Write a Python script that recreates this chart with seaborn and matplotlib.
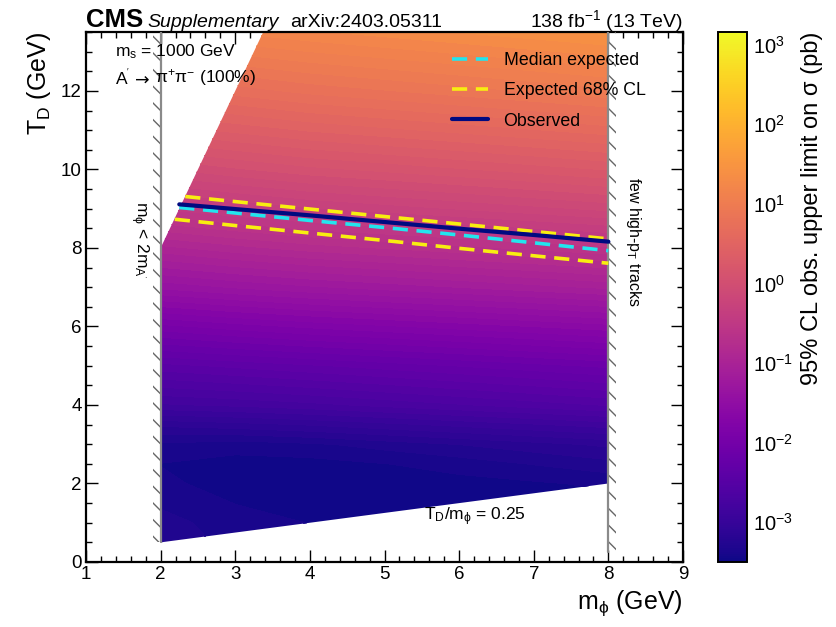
import numpy as np
import pandas as pd
import matplotlib
matplotlib.use("Agg")
import matplotlib.pyplot as plt
import seaborn as sns
from matplotlib.colors import Normalize, LogNorm
from matplotlib.patches import Polygon, Rectangle
from matplotlib.ticker import MultipleLocator, LogFormatterMathtext
from matplotlib.cm import ScalarMappable

# ---------------- data ----------------
m_phi = [2, 3, 4, 5, 6, 7, 8]
t_d = [0.5, 1.0, 1.5, 2.0, 2.5, 3.0, 3.5, 4.0, 5.0, 6.0, 7.0, 8.0, 9.0, 10.0, 11.0, 12.0, 13.5]
# log10 of observed upper limit (pb); rows = t_d, columns = m_phi
log_limit = [
    [-3.30, -3.35, -3.40, -3.42, -3.45, -3.45, -3.45],
    [-3.30, -3.38, -3.42, -3.45, -3.45, -3.45, -3.45],
    [-3.35, -3.42, -3.45, -3.45, -3.45, -3.45, -3.45],
    [-3.40, -3.45, -3.45, -3.45, -3.45, -3.43, -3.40],
    [-3.42, -3.45, -3.45, -3.42, -3.38, -3.33, -3.28],
    [-3.35, -3.38, -3.35, -3.30, -3.25, -3.20, -3.15],
    [-3.15, -3.12, -3.08, -3.03, -2.98, -2.93, -2.88],
    [-2.85, -2.82, -2.78, -2.73, -2.68, -2.63, -2.58],
    [-2.45, -2.40, -2.35, -2.30, -2.25, -2.20, -2.15],
    [-1.95, -1.88, -1.82, -1.77, -1.72, -1.67, -1.62],
    [-1.40, -1.33, -1.27, -1.22, -1.17, -1.12, -1.07],
    [-0.95, -0.87, -0.80, -0.75, -0.70, -0.65, -0.60],
    [-0.50, -0.42, -0.35, -0.30, -0.25, -0.20, -0.15],
    [-0.10, -0.02, 0.05, 0.10, 0.15, 0.20, 0.25],
    [0.28, 0.35, 0.42, 0.47, 0.52, 0.57, 0.62],
    [0.62, 0.70, 0.77, 0.82, 0.87, 0.92, 0.97],
    [1.10, 1.17, 1.23, 1.28, 1.33, 1.38, 1.43],
]
# allowed region boundary (m_phi, T_D)
region_m = [2.0, 8.0, 8.0, 3.375, 2.0]
region_td = [0.5, 2.0, 13.5, 13.5, 8.0]

# limit contours
obs_m = [2.25, 3, 4, 5, 6, 7, 8]
obs_td = [9.11, 8.99, 8.83, 8.66, 8.49, 8.33, 8.16]
med_m = [2.25, 3, 4, 5, 6, 7, 8]
med_td = [9.03, 8.89, 8.70, 8.52, 8.33, 8.13, 7.93]
up_m = [2.33, 3, 4, 5, 6, 7, 8]
up_td = [9.31, 9.18, 8.99, 8.80, 8.61, 8.42, 8.23]
lo_m = [2.19, 3, 4, 5, 6, 7, 8]
lo_td = [8.73, 8.57, 8.38, 8.19, 7.99, 7.80, 7.61]

cbar_ticks = [1e-3, 1e-2, 1e-1, 1e0, 1e1, 1e2, 1e3]
z_lo, z_hi = -3.5, 3.16

# ---------------- style ----------------
sns.set_style("ticks")
plt.rcParams["font.family"] = ["Liberation Sans", "DejaVu Sans"]
plt.rcParams["mathtext.fontset"] = "custom"
plt.rcParams["mathtext.rm"] = "Liberation Sans"
plt.rcParams["mathtext.it"] = "Liberation Sans:italic"
plt.rcParams["mathtext.bf"] = "Liberation Sans:bold"
plt.rcParams["mathtext.default"] = "regular"
plt.rcParams["hatch.linewidth"] = 1.0
plt.rcParams["hatch.color"] = "#666666"
for k in ["text.color", "axes.labelcolor", "xtick.color", "ytick.color", "axes.edgecolor"]:
    plt.rcParams[k] = "black"

W, H = 836, 627
fig = plt.figure(figsize=(W / 100, H / 100), dpi=100)
ax = fig.add_axes([86 / W, 1 - 562 / H, (683 - 86) / W, (562 - 32) / H])
cax = fig.add_axes([718 / W, 1 - 562 / H, 29 / W, (562 - 32) / H])

# ---------------- colour field ----------------
M, T = np.meshgrid(np.array(m_phi), np.array(t_d))
Z = np.array(log_limit)
levels = np.linspace(z_lo, z_hi, 81)
cs = ax.contourf(M, T, Z, levels=levels, cmap="plasma",
                 norm=Normalize(z_lo, z_hi), extend="both", antialiased=False)
cs.set_edgecolor("face")
cs.set_linewidth(0.4)
poly = Polygon(np.column_stack([region_m, region_td]), closed=True,
               transform=ax.transData, facecolor="none", edgecolor="none")
cs.set_clip_path(poly)

# ---------------- excluded bands (hatched) ----------------
ax.add_patch(Rectangle((1.9, 0.5), 0.1, 13.0, facecolor="none",
                       edgecolor="#666666", linewidth=0, hatch="\\\\", zorder=3))
ax.add_patch(Rectangle((8.0, 0.25), 0.1, 13.25, facecolor="none",
                       edgecolor="#666666", linewidth=0, hatch="\\\\", zorder=3))
ax.plot([2, 2], [0.5, 13.5], color="#8a8a8a", lw=1.6, zorder=3)
ax.plot([8, 8], [0.25, 13.5], color="#8a8a8a", lw=1.6, zorder=3)

# ---------------- limit lines ----------------
dash = (0, (4.2, 2.4))
sns.lineplot(x=med_m, y=med_td, ax=ax, color="#22e5ee", lw=2.6,
             linestyle=dash, label="Median expected", zorder=5)
sns.lineplot(x=up_m, y=up_td, ax=ax, color="#f8ee10", lw=2.6,
             linestyle=dash, label="Expected 68% CL", zorder=5)
sns.lineplot(x=lo_m, y=lo_td, ax=ax, color="#f8ee10", lw=2.6,
             linestyle=dash, zorder=5)
sns.lineplot(x=obs_m, y=obs_td, ax=ax, color="#000a80", lw=3.0,
             label="Observed", zorder=6)

leg = ax.legend(loc="upper left", bbox_to_anchor=((452 - 86) / 597, (562 - 52) / 530),
                frameon=False, fontsize=12.8, handlelength=2.0, handletextpad=0.9,
                labelspacing=0.75, borderaxespad=0, borderpad=0)

# ---------------- axes ----------------
ax.set_xlim(1, 9)
ax.set_ylim(0, 13.5)
ax.xaxis.set_major_locator(MultipleLocator(1))
ax.xaxis.set_minor_locator(MultipleLocator(0.2))
ax.yaxis.set_major_locator(MultipleLocator(2))
ax.yaxis.set_minor_locator(MultipleLocator(0.5))
ax.tick_params(which="both", direction="in", top=True, right=True, width=1.0,
               labelsize=13.5, colors="black")
ax.tick_params(which="major", length=8.5, pad=3)
ax.tick_params(which="minor", length=4.5)
for s in ax.spines.values():
    s.set_linewidth(1.6)
    s.set_color("black")
ax.set_xlabel("m$_{\\phi}$ (GeV)", fontsize=18, loc="right", labelpad=4)
ax.set_ylabel("T$_{D}$ (GeV)", fontsize=18, loc="top", labelpad=6)

# ---------------- annotations ----------------
ax.text(1.39, 13.0, "m$_{s}$ = 1000 GeV", fontsize=12.5, va="center", ha="left", zorder=7)
ax.text(1.39, 12.33, "A$^{'}$", fontsize=12.5, va="center", ha="left", zorder=7)
ax.text(1.65, 12.27, "\u2192", fontsize=12.5, family="DejaVu Sans", va="center",
        ha="left", zorder=7)
ax.text(1.93, 12.33, "\u03c0$^{+}$\u03c0$^{-}$ (100%)", fontsize=12.5,
        va="center", ha="left", zorder=7)
ax.text(1.71, 8.2, "m$_{\\phi}$ < 2m$_{A^{'}}$", fontsize=12.5, rotation=-90,
        va="center", ha="center", zorder=7)
ax.text(8.33, 8.15, "few high-p$_{T}$ tracks", fontsize=11.5, rotation=-90,
        va="center", ha="center", zorder=7)
ax.text(6.21, 1.15, "T$_{D}$/m$_{\\phi}$ = 0.25", fontsize=12.5, va="center",
        ha="center", zorder=7)

fig.text(86 / W, 1 - 27 / H, "CMS", fontsize=18.5, fontweight="bold", va="baseline", ha="left")
fig.text(147 / W, 1 - 27 / H, "Supplementary", fontsize=14, style="italic",
         va="baseline", ha="left")
fig.text(290 / W, 1 - 27 / H, "arXiv:2403.05311", fontsize=14, va="baseline", ha="left")
fig.text(683 / W, 1 - 27 / H, "138 fb$^{-1}$ (13 TeV)", fontsize=14, va="baseline", ha="right")

# ---------------- colour bar ----------------
sm = ScalarMappable(norm=LogNorm(10 ** z_lo, 10 ** z_hi), cmap="plasma")
cb = fig.colorbar(sm, cax=cax)
cb.set_ticks(cbar_ticks)
cax.yaxis.set_major_formatter(LogFormatterMathtext())
cax.minorticks_off()
cax.tick_params(direction="in", length=8, width=1.2, labelsize=14.5, pad=4,
                right=True, left=False, color="#333333")
cb.outline.set_linewidth(1.4)
cb.outline.set_edgecolor("black")
cb.set_label("95% CL obs. upper limit on \u03c3 (pb)", fontsize=17, loc="top", labelpad=6)

fig.savefig("out.png", dpi=100, facecolor="white")
